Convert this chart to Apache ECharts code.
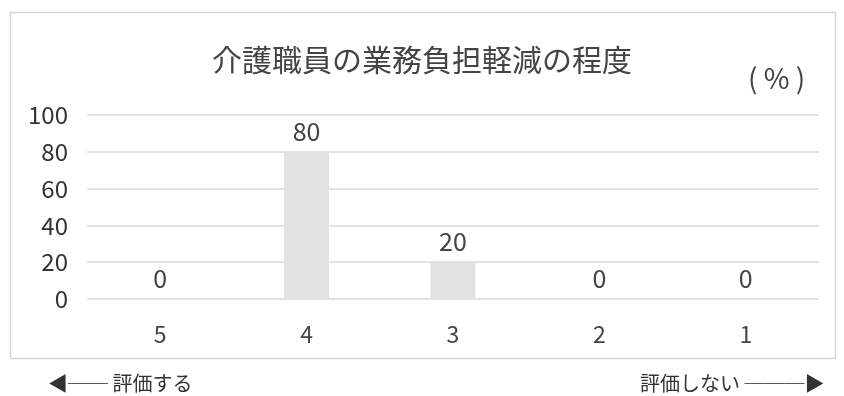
<!DOCTYPE html>
<html>
<head>
<meta charset="utf-8">
<script src="https://cdn.jsdelivr.net/npm/echarts@6/dist/echarts.min.js"></script>
<style>
  html, body { margin: 0; padding: 0; background: #fff; }
  #chart { width: 844px; height: 396px; }
</style>
</head>
<body>
<div id="chart"></div>
<script>
const categories = ['5', '4', '3', '2', '1']
const values = [0, 80, 20, 0, 0]
const yTicks = [0, 20, 40, 60, 80, 100]

const font = '"Noto Sans CJK JP", "Noto Sans", sans-serif'
const chart = echarts.init(document.getElementById('chart'))

chart.setOption({
  animation: false,
  textStyle: { fontFamily: font },
  title: {
    text: '介護職員の業務負担軽減の程度',
    left: 'center',
    top: 40,
    textStyle: { fontSize: 30, fontWeight: 'normal', color: '#444', fontFamily: font }
  },
  grid: { left: 87, right: 25, top: 115, bottom: 97 },
  xAxis: {
    type: 'category',
    data: categories,
    axisLine: { show: false },
    axisTick: { show: false },
    axisLabel: { fontSize: 23, color: '#444', margin: 24 }
  },
  yAxis: {
    type: 'value',
    min: yTicks[0],
    max: yTicks[yTicks.length - 1],
    interval: 20,
    axisLine: { show: false },
    axisTick: { show: false },
    axisLabel: { fontSize: 24, color: '#333', margin: 19 },
    splitLine: { lineStyle: { color: '#d9d9d9', width: 1.5 } }
  },
  series: [{
    type: 'bar',
    data: values,
    barWidth: 45,
    itemStyle: { color: '#e2e2e2' },
    label: {
      show: true,
      position: 'top',
      distance: 8,
      fontSize: 25,
      color: '#444'
    }
  }],
  graphic: [
    {
      type: 'rect',
      shape: { x: 10.5, y: 12.5, width: 825, height: 346 },
      style: { fill: 'none', stroke: '#d6d6d6', lineWidth: 1.5 },
      z: -1
    },
    {
      type: 'text',
      left: 748, top: 64,
      style: { text: '( % )', fontSize: 28, fill: '#444', fontFamily: font }
    },
    {
      type: 'text',
      left: 48, top: 373,
      style: { text: '◀── 評価する', fontSize: 20, fill: '#333', fontFamily: font }
    },
    {
      type: 'text',
      left: 640, top: 373,
      style: { text: '評価しない ───▶', fontSize: 20, fill: '#333', fontFamily: font }
    }
  ]
})
</script>
</body>
</html>
